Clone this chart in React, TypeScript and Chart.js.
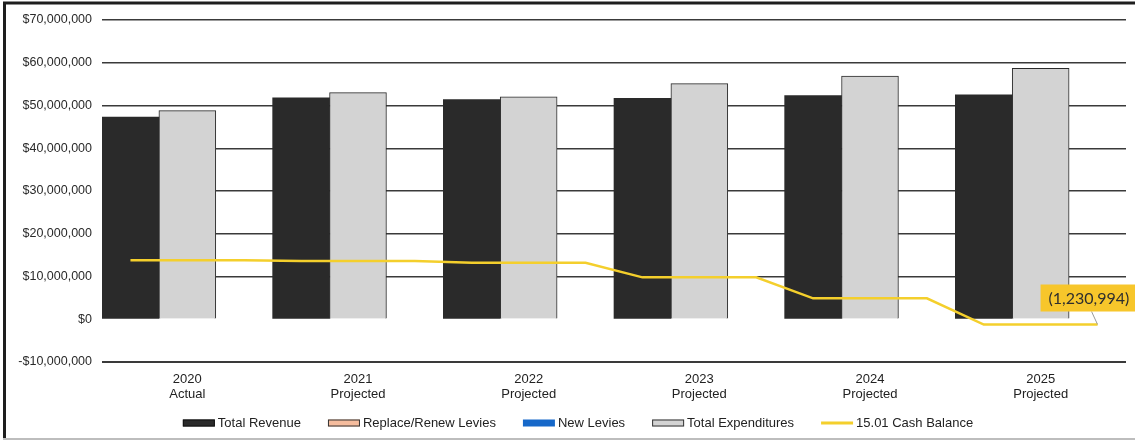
import React, { useEffect, useRef } from "react";
import { Chart, registerables } from "chart.js";

Chart.register(...registerables);

const years = ["2020", "2021", "2022", "2023", "2024", "2025"];
const yearNotes = ["Actual", "Projected", "Projected", "Projected", "Projected", "Projected"];
const totalRevenue = [47300000, 51800000, 51400000, 51700000, 52300000, 52500000];
const replaceRenewLevies = [0, 0, 0, 0, 0, 0];
const newLevies = [0, 0, 0, 0, 0, 0];
const totalExpenditures = [48800000, 53000000, 52000000, 55100000, 56900000, 58700000];
const cashBalance = [13800000, 13600000, 13200000, 9800000, 4900000, -1230994];
const yTicks = { min: -10000000, max: 70000000, step: 10000000 };

const FONT = '"Liberation Sans", Arial, sans-serif';

function fmtMoney(v: number) {
  return (v < 0 ? "-" : "") + "$" + Math.abs(v).toLocaleString("en-US");
}
function fmtAccounting(v: number) {
  const s = Math.abs(Math.round(v)).toLocaleString("en-US");
  return v < 0 ? "(" + s + ")" : s;
}

const framePlugin = {
  id: "frame",
  afterDraw(chart: any) {
    const ctx = chart.ctx;
    ctx.save();
    ctx.strokeStyle = "#1e1e1e";
    ctx.lineWidth = 3;
    ctx.beginPath();
    ctx.moveTo(4.5, 438);
    ctx.lineTo(4.5, 3);
    ctx.lineTo(1135, 3);
    ctx.stroke();
    ctx.strokeStyle = "#bdbdbd";
    ctx.lineWidth = 2;
    ctx.beginPath();
    ctx.moveTo(3, 439);
    ctx.lineTo(1135, 439);
    ctx.stroke();
    ctx.restore();
  },
};

const legendPlugin = {
  id: "customLegend",
  afterDraw(chart: any) {
    const ctx = chart.ctx;
    const ds = chart.data.datasets;
    ctx.save();
    ctx.font = "13px " + FONT;
    const boxW = 32;
    const gapText = 3;
    const gapItem = 27;
    const widths = ds.map((d: any) => boxW + gapText + ctx.measureText(d.label).width);
    const total = widths.reduce((a: number, b: number) => a + b, 0) + gapItem * (ds.length - 1);
    let x = 578 - total / 2;
    const yc = 423;
    ds.forEach((d: any, i: number) => {
      if (d.type === "line") {
        ctx.strokeStyle = d.borderColor;
        ctx.lineWidth = 3;
        ctx.beginPath();
        ctx.moveTo(x, yc);
        ctx.lineTo(x + boxW, yc);
        ctx.stroke();
      } else {
        ctx.fillStyle = d.legendFill;
        ctx.fillRect(x, yc - 3.5, boxW, 7);
        if (d.legendBorder) {
          ctx.strokeStyle = d.legendBorder;
          ctx.lineWidth = 1;
          ctx.strokeRect(x + 0.5, yc - 3.5 + 0.5, boxW - 1, 6);
        }
      }
      ctx.fillStyle = "#222";
      ctx.textBaseline = "middle";
      ctx.textAlign = "left";
      ctx.fillText(d.label, x + boxW + gapText, yc);
      x += widths[i] + gapItem;
    });
    ctx.restore();
  },
};

const labelPlugin = {
  id: "lastLabel",
  afterDatasetsDraw(chart: any) {
    const idx = chart.data.datasets.findIndex((d: any) => d.type === "line");
    const meta = chart.getDatasetMeta(idx);
    const pts = meta.data;
    const p = pts[pts.length - 1];
    const v = cashBalance[cashBalance.length - 1];
    const ctx = chart.ctx;
    ctx.save();
    ctx.strokeStyle = "#9a9a9a";
    ctx.lineWidth = 1;
    ctx.beginPath();
    ctx.moveTo(p.x - 6, p.y - 13);
    ctx.lineTo(p.x, p.y);
    ctx.stroke();
    const bx = p.x - 57;
    const by = p.y - 40;
    ctx.fillStyle = "#f7c62b";
    ctx.fillRect(bx, by, 110, 27);
    ctx.fillStyle = "#2e2e2e";
    ctx.font = "16px Lato, 'Open Sans', sans-serif";
    ctx.textBaseline = "middle";
    ctx.textAlign = "left";
    ctx.fillText(fmtAccounting(v), bx + 8, by + 14);
    ctx.restore();
  },
};

export default function App() {
  const ref = useRef<HTMLCanvasElement | null>(null);
  useEffect(() => {
    document.body.style.margin = "0";
    const labels = years.map((y, i) => [y, yearNotes[i]]);
    // the cash balance line runs across each year's group: from the first bar slot to the third
    const linePoints: { x: number; y: number }[] = [];
    cashBalance.forEach((v, i) => {
      linePoints.push({ x: i - 1 / 3, y: v });
      linePoints.push({ x: i + 1 / 3, y: v });
    });
    const chart = new Chart(ref.current as HTMLCanvasElement, {
      type: "bar",
      data: {
        labels,
        datasets: [
          {
            type: "bar",
            label: "Total Revenue",
            data: totalRevenue,
            backgroundColor: "#2a2a2a",
            borderWidth: 0,
            stack: "rev",
            order: 1,
            legendFill: "#2a2a2a",
            legendBorder: "#111",
          } as any,
          {
            type: "bar",
            label: "Replace/Renew Levies",
            data: replaceRenewLevies,
            backgroundColor: "rgba(0,0,0,0)",
            borderWidth: 0,
            stack: "rev",
            order: 1,
            legendFill: "#f5bc9d",
            legendBorder: "#333",
          } as any,
          {
            type: "bar",
            label: "New Levies",
            data: newLevies,
            backgroundColor: "rgba(0,0,0,0)",
            borderWidth: 0,
            stack: "new",
            order: 3,
            legendFill: "#1668c9",
          } as any,
          {
            type: "bar",
            label: "Total Expenditures",
            data: totalExpenditures,
            backgroundColor: "#d3d3d3",
            borderColor: "#2a2a2a",
            borderWidth: 1,
            stack: "exp",
            order: 2,
            legendFill: "#d3d3d3",
            legendBorder: "#333",
          } as any,
          {
            type: "line",
            label: "15.01 Cash Balance",
            data: linePoints,
            parsing: false,
            borderColor: "#f4cf2c",
            borderWidth: 2.5,
            pointRadius: 0,
            tension: 0,
            fill: false,
            order: 0,
          } as any,
        ],
      },
      options: {
        responsive: false,
        animation: false,
        devicePixelRatio: 1,
        layout: { padding: { top: 20, right: 9, bottom: 40, left: 0 } },
        plugins: { legend: { display: false }, tooltip: { enabled: false } },
        datasets: { bar: { categoryPercentage: 1, barPercentage: 1 } },
        scales: {
          x: {
            type: "category",
            grid: { display: false, drawTicks: false },
            border: { display: false },
            ticks: {
              padding: 10,
              color: "#222",
              font: { family: FONT, size: 13, lineHeight: 1.15 },
              maxRotation: 0,
              autoSkip: false,
            },
            afterFit: (s: any) => {
              s.height = 40;
            },
          },
          y: {
            min: yTicks.min,
            max: yTicks.max,
            border: { display: false },
            grid: {
              drawTicks: false,
              color: (c: any) => (c.tick && c.tick.value === 0 ? "rgba(0,0,0,0)" : "#3a3a3a"),
              lineWidth: (c: any) => (c.tick && c.tick.value === yTicks.min ? 2 : 1.5),
            },
            ticks: {
              stepSize: yTicks.step,
              padding: 10,
              color: "#2a2a2a",
              font: { family: FONT, size: 12.5 },
              callback: (v: any) => fmtMoney(Number(v)),
            },
            afterFit: (s: any) => {
              s.width = 102;
            },
          },
        },
      } as any,
      plugins: [framePlugin, legendPlugin, labelPlugin],
    });
    return () => chart.destroy();
  }, []);
  return (
    <div style={{ width: 1135, height: 442, background: "#fff" }}>
      <canvas ref={ref} width={1135} height={442} style={{ display: "block" }} />
    </div>
  );
}
